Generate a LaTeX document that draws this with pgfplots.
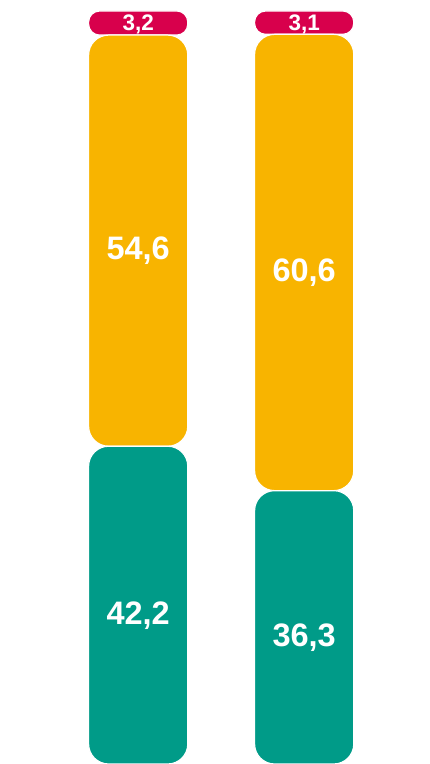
\documentclass[border=0pt]{standalone}
\usepackage{pgfplots}
\pgfplotsset{compat=1.18}
\usepackage{fontspec}
\setmainfont{Liberation Sans}
\definecolor{cteal}{HTML}{009B88}
\definecolor{cyellow}{HTML}{F8B400}
\definecolor{cred}{HTML}{D8004C}
\tikzset{
  big/.style={text=white, font=\fontsize{32.5}{32.5}\selectfont\bfseries, yshift=-10.5pt},
  small/.style={text=white, font=\fontsize{22.5}{22.5}\selectfont\bfseries, yshift=-1.5pt},
}
\begin{document}
\begin{tikzpicture}
\begin{axis}[
  width=430pt, height=764pt, scale only axis,
  hide axis,
  xmin=-0.8325, xmax=1.758,
  ymin=0, ymax=101.46,
  ybar stacked, bar width=99.2pt,
  every axis plot/.append style={draw=white, line width=1.2pt, rounded corners=20pt},
  clip=false,
]
\addplot[fill=cteal] coordinates {(0,42.2) (1,36.3)};
\addplot[fill=cyellow] coordinates {(0,54.6) (1,60.6)};
\addplot[fill=cred, rounded corners=11pt] coordinates {(0,3.2) (1,3.1)};
\coordinate (SW) at (rel axis cs:0,0);
\coordinate (NE) at (rel axis cs:1,1);
\coordinate (A1) at (axis cs:0,21.1);
\coordinate (A2) at (axis cs:0,69.5);
\coordinate (A3) at (axis cs:0,98.4);
\coordinate (B1) at (axis cs:1,18.15);
\coordinate (B2) at (axis cs:1,66.6);
\coordinate (B3) at (axis cs:1,98.45);
\end{axis}
\node[big] at (A1) {42,2};
\node[big] at (A2) {54,6};
\node[small] at (A3) {3,2};
\node[big] at (B1) {36,3};
\node[big] at (B2) {60,6};
\node[small] at (B3) {3,1};
\pgfresetboundingbox
\path[use as bounding box] (SW) rectangle (NE);
\end{tikzpicture}
\end{document}
